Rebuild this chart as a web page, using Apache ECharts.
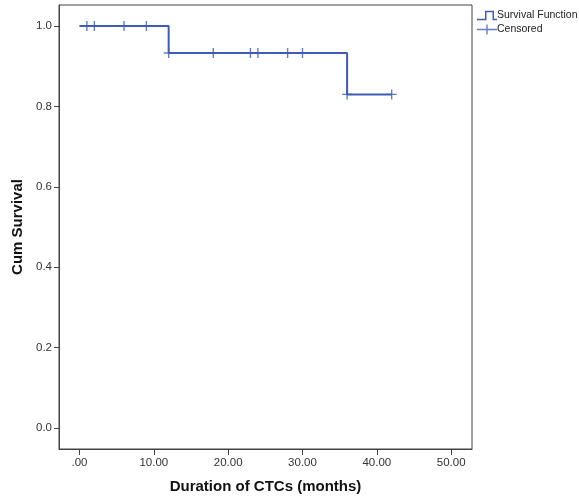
<!DOCTYPE html>
<html>
<head>
<meta charset="utf-8">
<script src="https://cdn.jsdelivr.net/npm/echarts@6/dist/echarts.min.js"></script>
<style>
  html, body { margin: 0; padding: 0; background: #fff; }
  #chart { width: 579px; height: 499px; }
</style>
</head>
<body>
<div id="chart"></div>
<script>
// survival step points (time, cum survival)
const stepTimes = [0, 12, 36, 42];
const stepSurv = [1.0, 0.933, 0.83, 0.83];
// censored observations
const censorTimes = [1, 2, 6, 9, 12, 18, 23, 24, 28, 30, 36, 42];
const censorSurv = [1.0, 1.0, 1.0, 1.0, 0.933, 0.933, 0.933, 0.933, 0.933, 0.933, 0.83, 0.83];
// tick labels
const xTicks = [0, 10, 20, 30, 40, 50];
const yTicks = [0, 0.2, 0.4, 0.6, 0.8, 1.0];

const blue = '#3d5cb8';
const frame = '#444';
const crossPath = 'path://M4.3,0h1.4v10h-1.4zM0,4.3h10v1.4h-10z';
const legendCross = 'path://M9.3,0h1.4v10h-1.4zM0,4.3h20v1.4h-20z';
const stepIcon = 'path://M0,8h8v-8h9v8h3v1.5h-4.5v-8h-6v8h-9.5z';

const chart = echarts.init(document.getElementById('chart'));
chart.setOption({
  animation: false,
  textStyle: { fontFamily: 'Liberation Sans, Arial, sans-serif' },
  grid: {
    left: 59, right: 107, top: 5, bottom: 50,
    show: true, borderColor: frame, borderWidth: 1, backgroundColor: '#fff'
  },
  legend: {
    left: 472, top: 5, orient: 'vertical', itemGap: 3,
    itemWidth: 20, itemHeight: 10,
    textStyle: { fontSize: 10.5, color: '#222', padding: [0, 0, 0, -5] },
    data: [
      { name: 'Survival Function', icon: stepIcon },
      { name: 'Censored', icon: legendCross }
    ]
  },
  xAxis: {
    type: 'value', min: -2.75, max: 52.8,
    name: 'Duration of CTCs (months)', nameLocation: 'middle', nameGap: 30,
    nameTextStyle: { fontSize: 15, fontWeight: 'bold', color: '#111' },
    splitLine: { show: false },
    axisLine: { show: true, onZero: false, lineStyle: { color: frame } },
    axisTick: { show: true, length: 6, customValues: xTicks, lineStyle: { color: frame } },
    axisLabel: {
      customValues: xTicks, margin: 8, fontSize: 11.5, color: '#333',
      formatter: v => v === 0 ? '.00' : v.toFixed(2)
    }
  },
  yAxis: {
    type: 'value', min: -0.0525, max: 1.0525,
    name: 'Cum Survival', nameLocation: 'middle', nameGap: 33,
    nameTextStyle: { fontSize: 15, fontWeight: 'bold', color: '#111' },
    splitLine: { show: false },
    axisLine: { show: true, onZero: false, lineStyle: { color: frame } },
    axisTick: { show: true, length: 5, customValues: yTicks, lineStyle: { color: frame } },
    axisLabel: {
      customValues: yTicks, margin: 7, fontSize: 11.5, color: '#333',
      formatter: v => v.toFixed(1)
    }
  },
  series: [
    {
      name: 'Survival Function', type: 'line', step: 'end',
      showSymbol: false, symbol: 'none',
      lineStyle: { color: blue, width: 2 },
      itemStyle: { color: blue },
      data: stepTimes.map((t, i) => [t, stepSurv[i]])
    },
    {
      name: 'Censored', type: 'scatter',
      symbol: crossPath, symbolSize: 10,
      itemStyle: { color: blue },
      data: censorTimes.map((t, i) => [t, censorSurv[i]])
    }
  ]
});
</script>
</body>
</html>
